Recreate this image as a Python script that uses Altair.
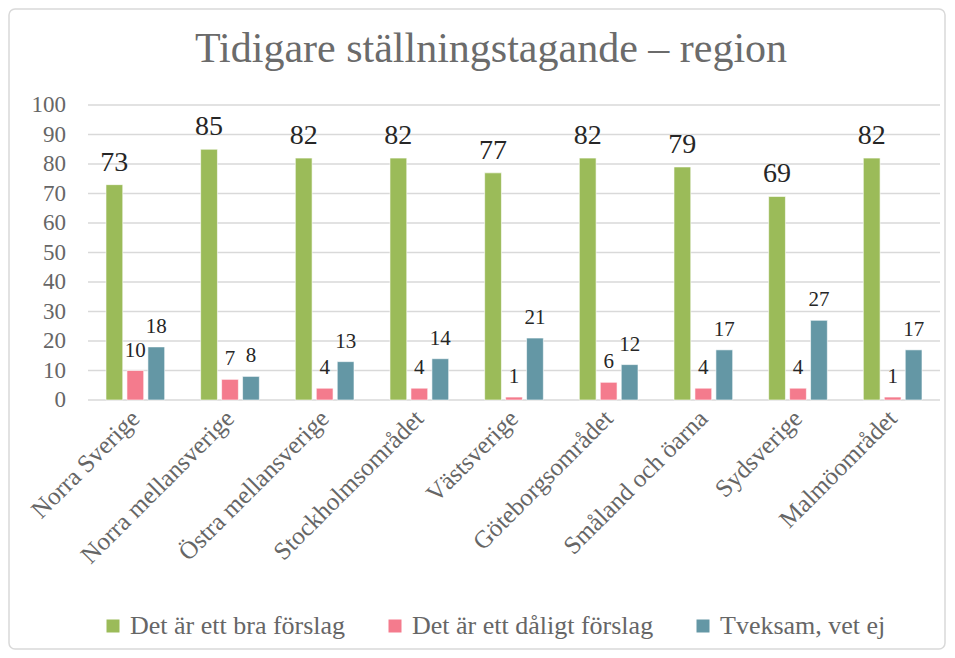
import altair as alt
import pandas as pd

regions = ["Norra Sverige", "Norra mellansverige", "Östra mellansverige",
           "Stockholmsområdet", "Västsverige", "Göteborgsområdet",
           "Småland och öarna", "Sydsverige", "Malmöområdet"]
series = ["Det är ett bra förslag", "Det är ett dåligt förslag", "Tveksam, vet ej"]
bra = [73, 85, 82, 82, 77, 82, 79, 69, 82]
daligt = [10, 7, 4, 4, 1, 6, 4, 4, 1]
tveksam = [18, 8, 13, 14, 21, 12, 17, 27, 17]
colors = ["#9BBB59", "#F47B8D", "#6497A5"]
y_ticks = [0, 10, 20, 30, 40, 50, 60, 70, 80, 90, 100]
title_text = "Tidigare ställningstagande – region"

rows = []
for i, r in enumerate(regions):
    for s, vals in zip(series, [bra, daligt, tveksam]):
        rows.append({"region": r, "serie": s, "value": vals[i]})
df = pd.DataFrame(rows)
ticks_df = pd.DataFrame({"tick": y_ticks})

FONT = "Liberation Serif"
y_scale = alt.Scale(domain=[0, 100], nice=False)

grid = alt.Chart(ticks_df).mark_rule(color="#D9D9D9", strokeWidth=1.5).encode(
    y=alt.Y("tick:Q", scale=y_scale, axis=None),
    x=alt.value(0), x2=alt.value(852),
)
ylabels = alt.Chart(ticks_df).mark_text(
    font=FONT, fontSize=23, color="#666666", align="right", baseline="middle"
).encode(
    y=alt.Y("tick:Q", scale=y_scale, axis=None),
    x=alt.value(-22),
    text=alt.Text("tick:Q"),
)

base = alt.Chart(df).encode(
    x=alt.X("region:N", sort=regions, title=None,
            scale=alt.Scale(paddingInner=0.38, paddingOuter=0.19),
            axis=alt.Axis(labelAngle=-45, labelAlign="right", labelBaseline="middle",
                          labelPadding=14, labelFontSize=25, labelFont=FONT,
                          labelColor="#666666", domain=False, ticks=False,
                          grid=False, labelLimit=300)),
    xOffset=alt.XOffset("serie:N", sort=series,
                        scale=alt.Scale(paddingInner=0.2, paddingOuter=0)),
    y=alt.Y("value:Q", title=None, scale=y_scale, axis=None),
)

bars = base.mark_bar(stroke="#ffffff", strokeWidth=0.6).encode(
    color=alt.Color("serie:N", sort=series,
                    scale=alt.Scale(domain=series, range=colors),
                    legend=alt.Legend(title=None, orient="none", direction="horizontal",
                                      legendX=12, legendY=508,
                                      symbolType="square", symbolSize=169,
                                      symbolStrokeWidth=0,
                                      labelFont=FONT, labelFontSize=26,
                                      labelColor="#666666", labelLimit=400,
                                      labelOffset=4, columnPadding=36)),
)

labels = base.mark_text(baseline="alphabetic", dy=-14, font=FONT, color="#262626").encode(
    text=alt.Text("value:Q"),
    size=alt.condition(alt.datum.serie == series[0], alt.value(28), alt.value(21)),
)

one = pd.DataFrame({"t": [title_text]})

frame = alt.Chart(one).mark_rect(
    fill="#ffffff", fillOpacity=0, stroke="#D9D9D9", strokeWidth=1.5, cornerRadius=6
).encode(x=alt.value(-79), x2=alt.value(857), y=alt.value(-96), y2=alt.value(544))

title = alt.Chart(one).mark_text(
    font=FONT, fontSize=42, color="#6b6b6b", baseline="alphabetic", align="center"
).encode(x=alt.value(403), y=alt.value(-43), text="t:N")

chart = alt.layer(frame, grid, ylabels, bars, labels, title).properties(
    width=852, height=295,
    background="#ffffff",
    autosize=alt.AutoSizeParams(type="none"),
    padding={"left": 80, "top": 97, "right": 7, "bottom": 250},
).configure_view(strokeWidth=0)

chart.save("out.html", embed_options={"renderer": "svg", "actions": False})
